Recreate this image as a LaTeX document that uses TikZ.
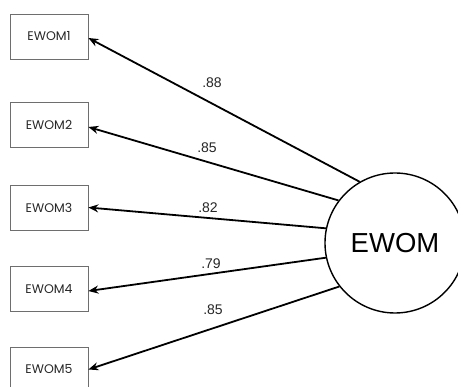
\documentclass[tikz,border=0pt]{standalone}
\usepackage{fontspec}
\setmainfont{Liberation Sans}
\newfontfamily\boxfont{Poppins}
\usetikzlibrary{arrows.meta}
\definecolor{boxline}{RGB}{110,110,110}
\definecolor{boxtext}{RGB}{40,40,40}
\tikzset{
  indicator/.style={draw=boxline, line width=0.8pt, minimum width=78pt, minimum height=45pt,
    inner sep=0pt, text=boxtext, font=\boxfont\fontsize{12.5}{14}\selectfont},
  factor/.style={circle, draw=black, line width=1.4pt, minimum size=140pt, inner sep=0pt,
    font=\fontsize{27.5}{30}\selectfont},
  loading/.style={line width=1.8pt, -{Stealth[length=10pt,width=8pt]}},
  weight/.style={font=\fontsize{14}{16}\selectfont, text=black!85}
}
\begin{document}
\begin{tikzpicture}[x=1pt,y=-1pt]
  \useasboundingbox (0,0) rectangle (458,387);
  \clip (0,0) rectangle (458,387);
  \fill[white] (0,0) rectangle (458,387);
  % indicator boxes
  \node[indicator] (b1) at (49,36.5) {EWOM1};
  \node[indicator] (b2) at (49,125) {EWOM2};
  \node[indicator] (b3) at (49,207.5) {EWOM3};
  \node[indicator] (b4) at (49,289) {EWOM4};
  \node[indicator] (b5) at (49,369.5) {EWOM5};
  % latent factor
  \node[factor] (E) at (395,243) {EWOM};
  % loadings
  \draw[loading] (E.120.3) -- ([yshift=-1.5pt]b1.east);
  \draw[loading] (E.143.8) -- ([yshift=-2pt]b2.east);
  \draw[loading] (E.168.2) -- (b3.east);
  \draw[loading] (E.192.6) -- ([yshift=-2pt]b4.east);
  \draw[loading] (E.218.5) -- (b5.east);
  % loading values
  \node[weight] (w1) at (212,83) {.88};
  \node[weight] (w2) at (207,148) {.85};
  \node[weight] (w3) at (208,208) {.82};
  \node[weight] (w4) at (211,264) {.79};
  \node[weight] (w5) at (213,310) {.85};
\end{tikzpicture}
\end{document}
